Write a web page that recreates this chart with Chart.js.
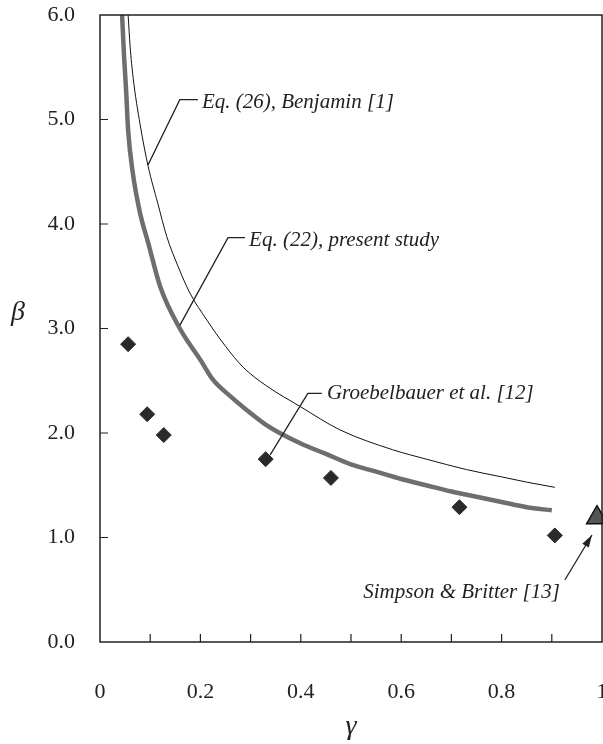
<!DOCTYPE html>
<html>
<head>
<meta charset="utf-8">
<script src="https://cdn.jsdelivr.net/npm/chart.js@4/dist/chart.umd.min.js"></script>
<style>
  html, body { margin: 0; padding: 0; background: #fff; overflow: hidden; }
  #wrap { width: 603px; height: 744px; }
  canvas { display: block; }
</style>
</head>
<body>
<div id="wrap"><canvas id="myChart"></canvas></div>
<script>
// Eq. (22), present study (thick grey curve)
const presentGamma = [0.044, 0.048, 0.052, 0.056, 0.065, 0.08, 0.096, 0.12, 0.159, 0.2, 0.225, 0.26, 0.292, 0.33, 0.358, 0.4, 0.45, 0.5, 0.55, 0.6, 0.65, 0.7, 0.75, 0.8, 0.85, 0.9];
const presentBeta  = [6.0, 5.6, 5.28, 4.9, 4.5, 4.1, 3.82, 3.4, 3.0, 2.70, 2.51, 2.35, 2.22, 2.08, 2.0, 1.90, 1.80, 1.70, 1.63, 1.56, 1.50, 1.44, 1.39, 1.34, 1.29, 1.26];

// Eq. (26), Benjamin [1] (thin black curve)
const benjaminGamma = [0.056, 0.06, 0.066, 0.08, 0.096, 0.115, 0.133, 0.155, 0.179, 0.213, 0.25, 0.285, 0.332, 0.4, 0.478, 0.583, 0.65, 0.73, 0.8, 0.85, 0.906];
const benjaminBeta  = [6.0, 5.7, 5.4, 4.95, 4.55, 4.2, 3.88, 3.6, 3.34, 3.08, 2.83, 2.63, 2.45, 2.25, 2.03, 1.84, 1.75, 1.65, 1.58, 1.53, 1.48];

// Groebelbauer et al. [12]
const groebGamma = [0.056, 0.094, 0.127, 0.33, 0.46, 0.716, 0.906];
const groebBeta  = [2.85, 2.18, 1.98, 1.75, 1.57, 1.29, 1.02];

// Simpson & Britter [13]
const simpsonGamma = [0.99];
const simpsonBeta  = [1.19];

const xTickValues = [0, 0.2, 0.4, 0.6, 0.8, 1];
const xTickLabels = ['0', '0.2', '0.4', '0.6', '0.8', '1'];
const xMinorTicks = [0.1, 0.3, 0.5, 0.7, 0.9];
const yTickValues = [0, 1, 2, 3, 4, 5, 6];
const yTickLabels = ['0.0', '1.0', '2.0', '3.0', '4.0', '5.0', '6.0'];

const pts = (xs, ys) => xs.map((x, i) => ({ x: x, y: ys[i] }));

const serif = '"Liberation Serif", "Times New Roman", serif';

// callouts, anchored in data coordinates
const callouts = [
  { text: 'Eq. (26), Benjamin [1]', path: [[0.0956, 4.565], [0.159, 5.19], [0.195, 5.19]], at: [0.203, 5.16], align: 'left' },
  { text: 'Eq. (22), present study', path: [[0.159, 3.03], [0.255, 3.87], [0.289, 3.87]], at: [0.297, 3.84], align: 'left' },
  { text: 'Groebelbauer et al. [12]', path: [[0.339, 1.79], [0.414, 2.38], [0.442, 2.38]], at: [0.452, 2.38], align: 'left' },
  { text: 'Simpson & Britter [13]', path: [[0.926, 0.593], [0.980, 1.024]], at: [0.916, 0.47], align: 'right', arrow: true }
];

const noPad = (s) => { s.paddingTop = 0; s.paddingBottom = 0; s.paddingLeft = 0; s.paddingRight = 0; };

const framePlugin = {
  id: 'frame',
  afterDraw(chart) {
    const ctx = chart.ctx;
    const a = chart.chartArea;
    const xs = chart.scales.x, ys = chart.scales.y;
    ctx.save();
    ctx.strokeStyle = '#222';
    ctx.lineWidth = 1.5;
    ctx.strokeRect(a.left, a.top, a.right - a.left, a.bottom - a.top);
    ctx.lineWidth = 1.2;
    ctx.beginPath();
    xTickValues.concat(xMinorTicks).forEach(v => {
      const px = xs.getPixelForValue(v);
      if (px <= a.left + 1 || px >= a.right - 1) return;
      ctx.moveTo(px, a.bottom);
      ctx.lineTo(px, a.bottom - 8);
    });
    yTickValues.forEach(v => {
      const py = ys.getPixelForValue(v);
      if (py <= a.top + 1 || py >= a.bottom - 1) return;
      ctx.moveTo(a.left, py);
      ctx.lineTo(a.left + 8, py);
    });
    ctx.stroke();

    // callouts
    ctx.strokeStyle = '#222';
    ctx.fillStyle = '#222';
    ctx.lineWidth = 1.3;
    callouts.forEach(c => {
      const p = c.path.map(q => [xs.getPixelForValue(q[0]), ys.getPixelForValue(q[1])]);
      ctx.beginPath();
      ctx.moveTo(p[0][0], p[0][1]);
      for (let i = 1; i < p.length; i++) ctx.lineTo(p[i][0], p[i][1]);
      ctx.stroke();
      if (c.arrow) {
        const e = p[p.length - 1], s = p[p.length - 2];
        const ang = Math.atan2(e[1] - s[1], e[0] - s[0]);
        ctx.beginPath();
        ctx.moveTo(e[0], e[1]);
        ctx.lineTo(e[0] - 13 * Math.cos(ang - 0.3), e[1] - 13 * Math.sin(ang - 0.3));
        ctx.lineTo(e[0] - 13 * Math.cos(ang + 0.3), e[1] - 13 * Math.sin(ang + 0.3));
        ctx.closePath();
        ctx.fill();
      }
      ctx.font = 'italic 21px ' + serif;
      ctx.textAlign = c.align;
      ctx.textBaseline = 'middle';
      ctx.fillText(c.text, xs.getPixelForValue(c.at[0]), ys.getPixelForValue(c.at[1]));
    });

    // axis titles
    ctx.font = 'italic 28px ' + serif;
    ctx.textAlign = 'center';
    ctx.textBaseline = 'middle';
    ctx.fillText('\u03b2', 18, 313);
    ctx.fillText('\u03b3', (a.left + a.right) / 2, 727);
    ctx.restore();
  }
};

const myChart = document.getElementById('myChart');

new Chart(myChart, {
  type: 'scatter',
  data: {
    datasets: [{
      label: 'Eq. (26), Benjamin [1]',
      data: pts(benjaminGamma, benjaminBeta),
      showLine: true,
      borderColor: '#111',
      borderWidth: 1,
      pointRadius: 0,
      cubicInterpolationMode: 'monotone',
      order: 2
    }, {
      label: 'Eq. (22), present study',
      data: pts(presentGamma, presentBeta),
      showLine: true,
      borderColor: '#6e6e70',
      borderWidth: 4.5,
      pointRadius: 0,
      cubicInterpolationMode: 'monotone',
      order: 1
    }, {
      label: 'Groebelbauer et al. [12]',
      data: pts(groebGamma, groebBeta),
      pointStyle: 'rectRot',
      pointRadius: 7.5,
      backgroundColor: '#2a2a2a',
      borderColor: '#2a2a2a',
      borderWidth: 1,
      order: 0
    }, {
      label: 'Simpson & Britter [13]',
      data: pts(simpsonGamma, simpsonBeta),
      pointStyle: 'triangle',
      pointRadius: 12,
      backgroundColor: '#555',
      borderColor: '#111',
      borderWidth: 1.5,
      clip: false,
      order: 0
    }]
  },
  options: {
    responsive: true,
    maintainAspectRatio: false,
    animation: false,
    layout: { autoPadding: false, padding: { top: 15, right: 1, left: 0, bottom: 0 } },
    plugins: {
      legend: { display: false },
      tooltip: { enabled: false }
    },
    scales: {
      x: {
        type: 'linear',
        min: 0,
        max: 1,
        afterBuildTicks: (s) => { s.ticks = xTickValues.map(v => ({ value: v })); },
        afterFit: (s) => { s.height = 102; noPad(s); },
        grid: { display: false, drawTicks: false },
        border: { display: false },
        ticks: {
          padding: 37,
          color: '#222',
          font: { family: serif, size: 22 },
          maxRotation: 0,
          callback: (v) => xTickLabels[xTickValues.indexOf(v)]
        }
      },
      y: {
        type: 'linear',
        min: 0,
        max: 6,
        afterBuildTicks: (s) => { s.ticks = yTickValues.map(v => ({ value: v })); },
        afterFit: (s) => { s.width = 100; noPad(s); },
        grid: { display: false, drawTicks: false },
        border: { display: false },
        ticks: {
          padding: 25,
          color: '#222',
          font: { family: serif, size: 22 },
          callback: (v) => yTickLabels[yTickValues.indexOf(v)]
        }
      }
    }
  },
  plugins: [framePlugin]
});
</script>
</body>
</html>
